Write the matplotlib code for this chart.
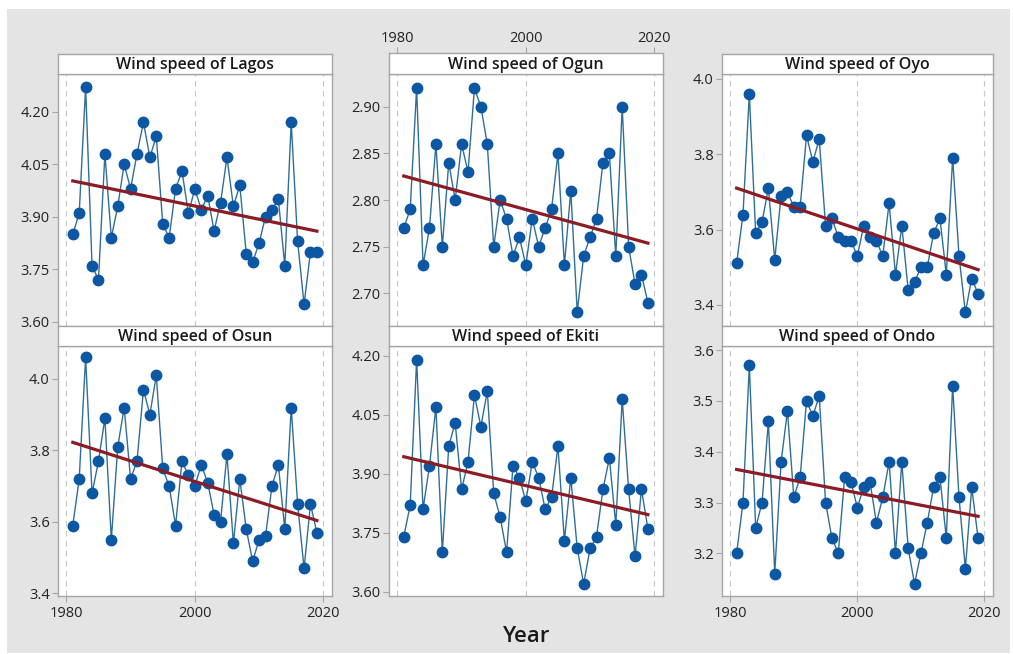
import numpy as np
import matplotlib
matplotlib.use("Agg")
import matplotlib.pyplot as plt

plt.rcParams['font.family'] = ['Open Sans', 'DejaVu Sans']

years = list(range(1981, 2020))

lagos = [3.85, 3.91, 4.27, 3.76, 3.72, 4.08, 3.84, 3.93, 4.05, 3.98,
         4.08, 4.17, 4.07, 4.13, 3.88, 3.84, 3.98, 4.03, 3.91, 3.98,
         3.92, 3.96, 3.86, 3.94, 4.07, 3.93, 3.99, 3.795, 3.77, 3.825,
         3.90, 3.92, 3.95, 3.76, 4.17, 3.83, 3.65, 3.80, 3.80]
ogun = [2.77, 2.79, 2.92, 2.73, 2.77, 2.86, 2.75, 2.84, 2.80, 2.86,
        2.83, 2.92, 2.90, 2.86, 2.75, 2.80, 2.78, 2.74, 2.76, 2.73,
        2.78, 2.75, 2.77, 2.79, 2.85, 2.73, 2.81, 2.68, 2.74, 2.76,
        2.78, 2.84, 2.85, 2.74, 2.90, 2.75, 2.71, 2.72, 2.69]
oyo = [3.51, 3.64, 3.96, 3.59, 3.62, 3.71, 3.52, 3.69, 3.70, 3.66,
       3.66, 3.85, 3.78, 3.84, 3.61, 3.63, 3.58, 3.57, 3.57, 3.53,
       3.61, 3.58, 3.57, 3.53, 3.67, 3.48, 3.61, 3.44, 3.46, 3.50,
       3.50, 3.59, 3.63, 3.48, 3.79, 3.53, 3.38, 3.47, 3.43]
osun = [3.59, 3.72, 4.06, 3.68, 3.77, 3.89, 3.55, 3.81, 3.92, 3.72,
        3.77, 3.97, 3.90, 4.01, 3.75, 3.70, 3.59, 3.77, 3.73, 3.70,
        3.76, 3.71, 3.62, 3.60, 3.79, 3.54, 3.72, 3.58, 3.49, 3.55,
        3.56, 3.70, 3.76, 3.58, 3.92, 3.65, 3.47, 3.65, 3.57]
ekiti = [3.74, 3.82, 4.19, 3.81, 3.92, 4.07, 3.70, 3.97, 4.03, 3.86,
         3.93, 4.10, 4.02, 4.11, 3.85, 3.79, 3.70, 3.92, 3.89, 3.83,
         3.93, 3.89, 3.81, 3.84, 3.97, 3.73, 3.89, 3.71, 3.62, 3.71,
         3.74, 3.86, 3.94, 3.77, 4.09, 3.86, 3.69, 3.86, 3.76]
ondo = [3.20, 3.30, 3.57, 3.25, 3.30, 3.46, 3.16, 3.38, 3.48, 3.31,
        3.35, 3.50, 3.47, 3.51, 3.30, 3.23, 3.20, 3.35, 3.34, 3.29,
        3.33, 3.34, 3.26, 3.31, 3.38, 3.20, 3.38, 3.21, 3.14, 3.20,
        3.26, 3.33, 3.35, 3.23, 3.53, 3.31, 3.17, 3.33, 3.23]

titles = ["Wind speed of Lagos", "Wind speed of Ogun", "Wind speed of Oyo",
          "Wind speed of Osun", "Wind speed of Ekiti", "Wind speed of Ondo"]
series = [lagos, ogun, oyo, osun, ekiti, ondo]
yticks = [[3.60, 3.75, 3.90, 4.05, 4.20],
          [2.70, 2.75, 2.80, 2.85, 2.90],
          [3.4, 3.6, 3.8, 4.0],
          [3.4, 3.6, 3.8, 4.0],
          [3.60, 3.75, 3.90, 4.05, 4.20],
          [3.2, 3.3, 3.4, 3.5, 3.6]]
ytick_fmt = ["%.2f", "%.2f", "%.1f", "%.1f", "%.2f", "%.1f"]
ylims = [(3.588, 4.308), (2.665, 2.935), (3.344, 4.013),
         (3.393, 4.092), (3.589, 4.225), (3.116, 3.608)]
xticks = [1980, 2000, 2020]

W, H = 1013, 654
fig = plt.figure(figsize=(W / 100, H / 100), dpi=100)
fig.patch.set_facecolor('white')
# gray background panel
bg = plt.Rectangle((7 / W, 1 / H), (1010 - 7) / W, (653 - 9) / H, transform=fig.transFigure,
                   facecolor='#e4e4e4', edgecolor='none', zorder=-10)
fig.patches.append(bg)

cols = [(58, 332), (389, 663), (722, 993)]
rows = [(54, 74, 326), (326, 346, 596)]

frame_col = '#a6a6a6'
text_col = '#222222'

for i in range(6):
    r, c = divmod(i, 3)
    x0, x1 = cols[c]
    st, pt, pb = rows[r]
    if c == 1 and r == 0:
        st = 53
    ax = fig.add_axes([x0 / W, 1 - pb / H, (x1 - x0) / W, (pb - pt) / H])
    sax = fig.add_axes([x0 / W, 1 - pt / H, (x1 - x0) / W, (pt - st) / H])
    sax.set_xticks([]); sax.set_yticks([])
    sax.set_facecolor('white')
    for s in sax.spines.values():
        s.set_color(frame_col); s.set_linewidth(1.0)
    sax.text(0.5, 0.45, titles[i], ha='center', va='center', fontsize=11.5,
             fontweight='semibold', color='#1a1a1a', transform=sax.transAxes)

    y = series[i]
    ax.set_facecolor('white')
    for xv in xticks:
        ax.axvline(xv, color='#c8c8c8', lw=0.8, ls=(0, (5, 4)), zorder=0)
    ax.plot(years, y, color='#2f6f98', lw=1.0, zorder=2)
    ax.plot(years, y, 'o', color='#0c57a4', ms=7.5, zorder=3, mec='#0c57a4')
    coef = np.polyfit(years, y, 1)
    xt = np.array([years[0], years[-1]])
    ax.plot(xt, np.polyval(coef, xt), color='#8c1c24', lw=2.3, zorder=4)

    ax.set_xlim(1978.7, 2021.35)
    ax.set_ylim(*ylims[i])
    ax.set_yticks(yticks[i])
    ax.set_yticklabels([ytick_fmt[i] % v for v in yticks[i]])
    ax.tick_params(axis='y', direction='out', length=4, width=0.8,
                   color=frame_col, labelsize=10.5, labelcolor=text_col, pad=2)
    for s in ax.spines.values():
        s.set_color(frame_col); s.set_linewidth(1.0)

    ax.set_xticks(xticks)
    ax.set_xticklabels([str(v) for v in xticks])
    if c == 1 and r == 0:
        ax.tick_params(axis='x', which='both', bottom=False, labelbottom=False,
                       top=False, labeltop=False)
        tax = fig.add_axes([x0 / W, 1 - pt / H, (x1 - x0) / W, (pt - st) / H], frameon=False)
        tax.set_xlim(1978.7, 2021.35)
        tax.set_yticks([])
        tax.set_xticks(xticks)
        tax.set_xticklabels([str(v) for v in xticks])
        tax.tick_params(axis='x', bottom=False, labelbottom=False, top=True, labeltop=True,
                        direction='out', length=4, width=0.8, color=frame_col,
                        labelsize=10.5, labelcolor=text_col, pad=1)
        tax.patch.set_alpha(0)
    elif r == 1 and c != 1:
        ax.tick_params(axis='x', direction='out', length=4, width=0.8,
                       color=frame_col, labelsize=10.5, labelcolor=text_col, pad=3)
    else:
        ax.tick_params(axis='x', which='both', bottom=False, labelbottom=False)

fig.text(526 / W, 1 - 637 / H, "Year", ha='center', va='center',
         fontsize=16, fontweight='semibold', color='#1a1a1a')

fig.savefig("out.png", dpi=100, facecolor=fig.get_facecolor())
